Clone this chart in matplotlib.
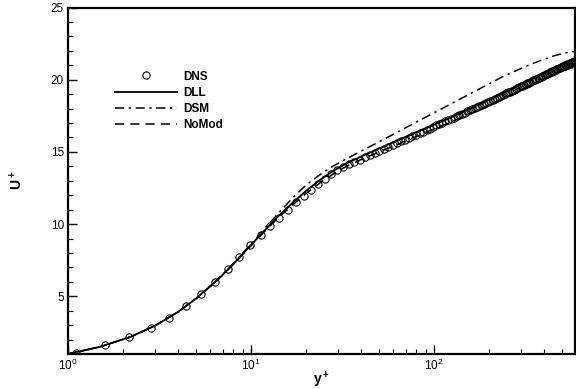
import numpy as np
import matplotlib
matplotlib.use('Agg')
import matplotlib.pyplot as plt
from matplotlib.ticker import MultipleLocator, LogLocator

plt.rcParams['font.family'] = ['Liberation Sans', 'DejaVu Sans']
plt.rcParams['mathtext.fontset'] = 'custom'
plt.rcParams['mathtext.rm'] = 'Liberation Sans'
plt.rcParams['mathtext.bf'] = 'Liberation Sans:bold'
plt.rcParams['mathtext.default'] = 'regular'

# DNS points (wall-normal grid of the reference data)
dns_y = [1.105, 1.590, 2.164, 2.827, 3.577, 4.415, 5.340, 6.353, 7.454, 8.642,
         9.917, 11.28, 12.73, 14.26, 15.88, 17.59, 19.39, 21.26, 23.23, 25.28,
         27.41, 29.63, 31.93, 34.31, 36.78, 39.33, 41.97, 44.68, 47.48, 50.36,
         53.32, 56.36, 59.48, 62.68, 65.95, 69.31, 72.75, 76.26, 79.85, 83.51,
         87.25, 91.07, 94.96, 98.93, 102.97, 107.08, 111.26, 115.52, 119.85, 124.24,
         128.71, 133.24, 137.85, 142.52, 147.26, 152.06, 156.93, 161.87, 166.87, 171.93,
         177.05, 182.24, 187.49, 192.79, 198.16, 203.59, 209.07, 214.61, 220.21, 225.86,
         231.56, 237.32, 243.14, 249.0, 254.91, 260.88, 266.89, 272.96, 279.07, 285.22,
         291.42, 297.67, 303.96, 310.29, 316.66, 323.08, 329.53, 336.03, 342.56, 349.12,
         355.73, 362.36, 369.04, 375.74, 382.48, 389.25, 396.04, 402.87, 409.72, 416.60,
         423.51, 430.44, 437.39, 444.37, 451.37, 458.39, 465.43, 472.48, 479.56, 486.65,
         493.75, 500.87, 508.0, 515.15, 522.30, 529.46, 536.64, 543.82, 551.0, 558.20,
         565.39, 572.59, 579.80, 587.0]
dns_u = [1.10, 1.59, 2.15, 2.80, 3.52, 4.31, 5.15, 6.02, 6.90, 7.75,
         8.55, 9.26, 9.90, 10.42, 10.98, 11.50, 11.96, 12.38, 12.77, 13.12,
         13.44, 13.72, 13.95, 14.13, 14.30, 14.46, 14.62, 14.77, 14.92, 15.06,
         15.20, 15.34, 15.47, 15.60, 15.72, 15.84, 15.96, 16.08, 16.19, 16.30,
         16.40, 16.51, 16.61, 16.71, 16.83, 16.92, 17.02, 17.11, 17.20, 17.29,
         17.38, 17.47, 17.55, 17.64, 17.72, 17.80, 17.88, 17.96, 18.03, 18.11,
         18.18, 18.26, 18.33, 18.40, 18.47, 18.54, 18.61, 18.67, 18.74, 18.81,
         18.87, 18.93, 19.00, 19.06, 19.12, 19.18, 19.24, 19.30, 19.36, 19.41,
         19.47, 19.53, 19.58, 19.64, 19.69, 19.74, 19.80, 19.85, 19.90, 19.95,
         20.00, 20.05, 20.10, 20.15, 20.19, 20.24, 20.29, 20.33, 20.38, 20.42,
         20.46, 20.51, 20.55, 20.59, 20.63, 20.67, 20.71, 20.75, 20.79, 20.83,
         20.87, 20.90, 20.94, 20.98, 21.01, 21.05, 21.08, 21.12, 21.15, 21.18,
         21.21, 21.24, 21.28, 21.31]

# LES profiles
les_y = [1.0, 1.5, 2.2, 3.0, 4.0, 5.0, 6.5, 8.0, 10.0, 12.0, 14.0, 17.0, 20.0,
         24.0, 28.0, 33.0, 40.0, 50.0, 60.0, 75.0, 90.0, 110.0, 135.0, 165.0,
         200.0, 240.0, 290.0, 340.0, 400.0, 460.0, 520.0, 560.0, 587.0]
dll_u = [1.0, 1.5, 2.19, 2.97, 3.92, 4.83, 6.08, 7.22, 8.55, 9.62, 10.50, 11.50, 12.30,
         13.08, 13.66, 14.18, 14.68, 15.22, 15.66, 16.20, 16.62, 17.10, 17.60, 18.12,
         18.60, 19.10, 19.60, 20.02, 20.48, 20.85, 21.15, 21.30, 21.37]
dsm_u = [1.0, 1.5, 2.19, 2.97, 3.92, 4.84, 6.10, 7.27, 8.62, 9.75, 10.70, 11.85, 12.70,
         13.45, 14.00, 14.50, 15.05, 15.69, 16.22, 16.87, 17.40, 17.98, 18.57, 19.16,
         19.71, 20.24, 20.70, 21.08, 21.42, 21.68, 21.85, 21.92, 21.95]
nomod_u = [1.0, 1.5, 2.19, 2.97, 3.92, 4.83, 6.07, 7.20, 8.50, 9.55, 10.40, 11.35, 12.12,
           12.88, 13.45, 13.98, 14.47, 14.98, 15.40, 15.92, 16.35, 16.80, 17.28, 17.75,
           18.22, 18.68, 19.15, 19.55, 19.98, 20.35, 20.65, 20.80, 20.85]

fig = plt.figure(figsize=(5.76, 3.89), dpi=100)
ax = fig.add_axes([68/576, 35/389, (575-68)/576, (354-7.5)/389])

ax.plot(dns_y, dns_u, 'o', mfc='none', mec='black', ms=5.2, mew=0.8, label='DNS')
ax.plot(les_y, dll_u, '-', color='black', lw=1.3, label='DLL')
ax.plot(les_y, dsm_u, color='black', lw=1.1, dashes=(6, 3, 1.5, 3), label='DSM')
ax.plot(les_y, nomod_u, color='black', lw=1.1, dashes=(6, 4), label='NoMod')

ax.set_xscale('log')
ax.set_xlim(1, 590)
ax.set_ylim(1, 25)
ax.yaxis.set_major_locator(MultipleLocator(5))
ax.yaxis.set_minor_locator(MultipleLocator(1))
ax.xaxis.set_major_locator(LogLocator(base=10))
ax.xaxis.set_minor_locator(LogLocator(base=10, subs=np.arange(2, 10)))

for s in ax.spines.values():
    s.set_linewidth(1.6)
ax.tick_params(which='major', direction='in', length=6.5, width=1.0, labelsize=8.5, pad=3)
ax.tick_params(which='minor', direction='in', length=3.5, width=0.8)

ax.set_xlabel(r'$\mathbf{y^+}$', fontsize=10)
ax.xaxis.set_label_coords(0.5, -0.046)
ax.set_ylabel(r'$\mathbf{U^+}$', fontsize=10)
ax.yaxis.set_label_coords(-0.085, 0.5)

ax.legend(loc='upper left', bbox_to_anchor=(104/576, 1 - 60/389), bbox_transform=fig.transFigure,
          frameon=False, handlelength=5.3, handletextpad=0.5, labelspacing=0.35,
          prop={'weight': 'bold', 'size': 8.5})

fig.savefig('out.png', dpi=100)
